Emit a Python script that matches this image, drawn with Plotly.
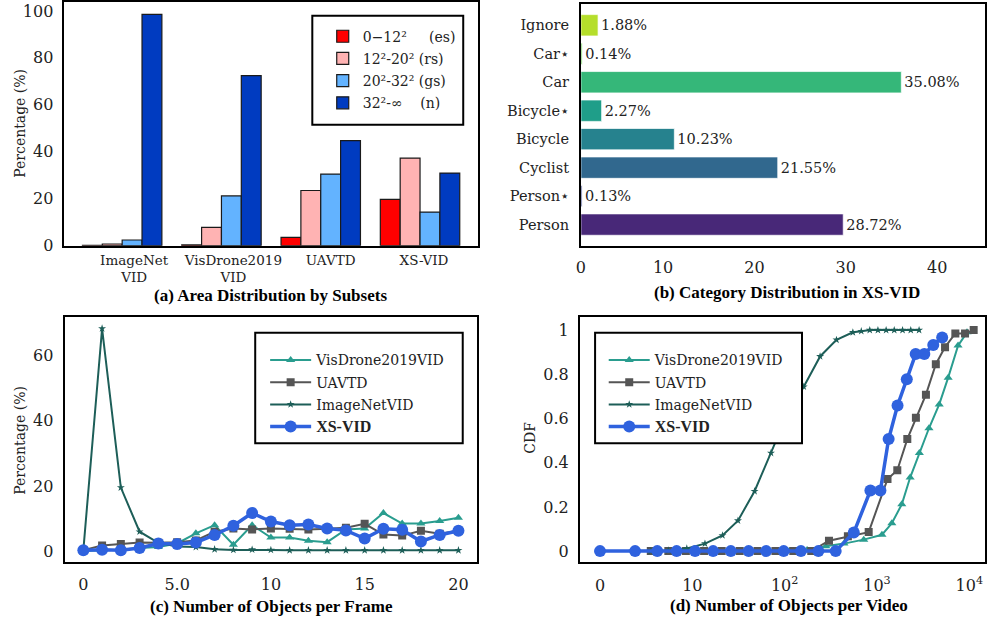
import math
import plotly.graph_objects as go

W, H = 987, 630
FONT = "DejaVu Serif"
BOLD = "Liberation Serif"

# ---------------- data ----------------
# (a) area distribution by subsets (%)
subsets = ["ImageNet<br>VID", "VisDrone2019<br>VID", "UAVTD", "XS-VID"]
area_names = ["0\u221212\u00b2\u00a0\u00a0\u00a0\u00a0\u00a0(es)", "12\u00b2-20\u00b2 (rs)",
              "20\u00b2-32\u00b2 (gs)", "32\u00b2-\u221e\u00a0\u00a0\u00a0\u00a0(n)"]
area_es = [0.1, 0.3, 3.5, 19.7]
area_rs = [0.7, 7.8, 23.5, 37.3]
area_gs = [2.4, 21.2, 30.5, 14.3]
area_n = [98.5, 72.4, 44.7, 30.9]
area_colors = ["#ff0000", "#ffb3b3", "#63b3ff", "#003bc0"]

# (b) category distribution in XS-VID (%)
cat_names = ["Person", "Person\u22c6", "Cyclist", "Bicycle", "Bicycle\u22c6", "Car", "Car\u22c6", "Ignore"]
cat_values = [28.72, 0.13, 21.55, 10.23, 2.27, 35.08, 0.14, 1.88]
cat_colors = ["#482878", "#3e4989", "#31688e", "#26828e", "#1f9e89", "#35b779", "#6ece58", "#b5de2b"]
cat_tick_text = ["0", "10", "20", "30", "40"]

# (c) number of objects per frame (%)
frame_x = list(range(21))
frame_vis = [0.1, 0.3, 0.5, 1.0, 1.3, 2.4, 5.5, 8.0, 2.0, 8.0, 4.2, 4.2, 3.2, 2.8, 6.7, 7.0, 11.7, 8.5, 8.5, 9.3, 10.3]
frame_uav = [0.3, 1.8, 2.2, 2.7, 2.6, 2.8, 3.3, 6.0, 7.0, 6.7, 7.0, 6.9, 6.7, 6.9, 7.2, 8.4, 5.1, 4.8, 6.3, 5.4, 6.3]
frame_img = [0.3, 68.2, 19.5, 6.0, 2.6, 1.5, 1.3, 0.6, 0.4, 0.5, 0.4, 0.3, 0.3, 0.3, 0.3, 0.3, 0.3, 0.3, 0.3, 0.3, 0.3]
frame_xs = [0.3, 0.5, 0.3, 1.0, 2.4, 2.2, 2.7, 5.0, 7.8, 11.7, 9.1, 8.0, 8.2, 7.0, 6.4, 3.9, 6.9, 6.6, 3.0, 5.0, 6.3]

# (d) number of objects per video (CDF)
vid_vis_x = [112, 175, 279, 439, 719, 1132, 1449, 1857, 2286, 2877, 3656, 4721, 5902, 7551, 9441]
vid_vis_y = [0, 0.005, 0.022, 0.034, 0.052, 0.074, 0.126, 0.212, 0.333, 0.444, 0.556, 0.664, 0.785, 0.930, 0.99]
vid_uav_x = [5.5, 7.4, 9.3, 13.4, 20.8, 32.6, 50.8, 79.4, 124, 194, 302, 484, 813, 1300, 1660, 2130,
             2640, 3390, 4340, 5460, 7060, 8990, 11150]
vid_uav_y = [0, 0, 0, 0, 0, 0, 0, 0, 0, 0, 0.047, 0.067, 0.086, 0.326, 0.366, 0.507, 0.604, 0.708,
             0.846, 0.923, 0.985, 0.985, 1.0]
vid_img_x = [3.5, 5.5, 7.4, 9.4, 13.7, 21.2, 31.2, 47.2, 71.1, 107, 161, 242, 364, 548, 676, 835,
             1024, 1256, 1538, 1892, 2322, 2858]
vid_img_y = [0, 0, 0.003, 0.012, 0.034, 0.071, 0.138, 0.271, 0.444, 0.62, 0.744, 0.881, 0.956, 0.99,
             0.995, 1.0, 1.0, 1.0, 1.0, 1.0, 1.0, 1.0]
vid_xs_x = [0, 3.8, 6.2, 8.3, 10.7, 16.8, 26.1, 40.7, 63.1, 97.6, 150, 232, 357, 561, 849, 1089, 1337,
            1670, 2103, 2626, 3256, 4070, 5082]
vid_xs_y = [0] * 13 + [0.084, 0.274, 0.274, 0.507, 0.659, 0.778, 0.892, 0.892, 0.933, 0.967]
vid_ticks = [0, 10, 100, 1000, 10000]
vid_tick_text = ["0", "10", "10<sup>2</sup>", "10<sup>3</sup>", "10<sup>4</sup>"]

series_names = ["VisDrone2019VID", "UAVTD", "ImageNetVID", "XS-VID"]
series_colors = ["#2a9d8f", "#555555", "#1d5e58", "#2f62de"]


def symlog10(v):
    """matplotlib-like symlog (linthresh=10)"""
    return v / 10.0 if v <= 10 else 1.0 + math.log10(v / 10.0)


def px_x(p):
    return p / W


def px_y(p):
    return 1 - p / H


fig = go.Figure()

# ---------------- (a) ----------------
for name, vals, col in zip(area_names, [area_es, area_rs, area_gs, area_n], area_colors):
    fig.add_trace(go.Bar(
        x=list(range(len(subsets))), y=vals, name=name, legendgroup=name,
        marker=dict(color=col, line=dict(color="#1a1a1a", width=1.2)),
        xaxis="x", yaxis="y", legend="legend"))

# ---------------- (b) ----------------
fig.add_trace(go.Bar(
    x=cat_values, y=cat_names, orientation="h", width=0.75,
    marker=dict(color=cat_colors, line=dict(color="rgba(255,255,255,0.7)", width=1)),
    texttemplate="%{x:.2f}%", textposition="outside", cliponaxis=False, constraintext="none",
    textfont=dict(family=FONT, size=14.5, color="#222"),
    showlegend=False, xaxis="x2", yaxis="y2"))

# ---------------- (c) & (d) ----------------
styles = [
    dict(symbol="triangle-up", size=8, lw=2),
    dict(symbol="square", size=8, lw=2),
    dict(symbol="star", size=6, lw=2),
    dict(symbol="circle", size=12, lw=3.5),
]
frame_series = [frame_vis, frame_uav, frame_img, frame_xs]
vid_series = [(vid_vis_x, vid_vis_y), (vid_uav_x, vid_uav_y), (vid_img_x, vid_img_y), (vid_xs_x, vid_xs_y)]
bold_xs = '<span style="font-family:Liberation Serif;font-weight:bold;font-size:16px">XS-VID</span>'

for nm, col, st, ys in zip(series_names, series_colors, styles, frame_series):
    label = bold_xs if nm == "XS-VID" else nm
    fig.add_trace(go.Scatter(
        x=frame_x, y=ys, mode="lines+markers", name=label, legendgroup="c" + nm,
        line=dict(color=col, width=st["lw"]),
        marker=dict(symbol=st["symbol"], size=st["size"], color=col),
        xaxis="x3", yaxis="y3", legend="legend2"))

for nm, col, st, (xs, ys) in zip(series_names, series_colors, styles, vid_series):
    label = bold_xs if nm == "XS-VID" else nm
    fig.add_trace(go.Scatter(
        x=[symlog10(v) for v in xs], y=ys, mode="lines+markers", name=label, legendgroup="d" + nm,
        line=dict(color=col, width=st["lw"]),
        marker=dict(symbol=st["symbol"], size=st["size"], color=col),
        xaxis="x4", yaxis="y4", legend="legend3"))

# ---------------- layout ----------------
axis_common = dict(showline=True, mirror=True, linecolor="black", linewidth=2, showgrid=False,
                   zeroline=False, ticks="", tickfont=dict(family=FONT, size=16, color="#222"))

fig.update_layout(
    width=W, height=H, autosize=False,
    margin=dict(l=0, r=0, t=0, b=0),
    paper_bgcolor="white", plot_bgcolor="white",
    font=dict(family=FONT, color="#222"),
    barmode="group", bargap=0.2, bargroupgap=0,
    xaxis=dict(axis_common, domain=[px_x(59), px_x(476)], anchor="y", range=[-0.59, 3.58],
               tickvals=[0.12, 1.12, 2.1, 3.04], ticktext=subsets,
               tickfont=dict(family=FONT, size=13.5, color="#222"), ticklabelstandoff=1),
    yaxis=dict(axis_common, domain=[px_y(249), px_y(1)], anchor="x", range=[0, 103.8],
               tickvals=[0, 20, 40, 60, 80, 100], ticklabelstandoff=5),
    xaxis2=dict(axis_common, domain=[px_x(580), 1.0], anchor="y2", range=[0, 44.24],
                tickvals=[0, 9, 19, 29, 39], ticktext=cat_tick_text, ticklabelstandoff=6),
    yaxis2=dict(axis_common, domain=[px_y(249), px_y(2.7)], anchor="x2", range=[-0.74, 7.76],
                type="category", tickfont=dict(family=FONT, size=14.5, color="#222"), ticklabelstandoff=7),
    xaxis3=dict(axis_common, domain=[px_x(60), px_x(475)], anchor="y3", range=[-1.0, 20.97],
                tickvals=[0, 5, 10, 15, 20], ticktext=["0", "5.0", "10", "15", "20"], ticklabelstandoff=7),
    yaxis3=dict(axis_common, domain=[px_y(570.7), px_y(321.7)], anchor="x3", range=[-3.2, 71.7],
                tickvals=[0, 20, 40, 60], ticklabelstandoff=6),
    xaxis4=dict(axis_common, domain=[px_x(579), 1.0], anchor="y4", range=[-0.218, 4.17],
                tickvals=[symlog10(v) for v in vid_ticks], ticktext=vid_tick_text, ticklabelstandoff=8),
    yaxis4=dict(axis_common, domain=[px_y(570.7), px_y(321.7)], anchor="x4", range=[-0.048, 1.059],
                tickvals=[0, 0.2, 0.4, 0.6, 0.8, 1.0], ticktext=["0", "0.2", "0.4", "0.6", "0.8", "1"],
                ticklabelstandoff=6),
    legend=dict(x=px_x(320), y=px_y(20), xanchor="left", yanchor="top", bgcolor="rgba(0,0,0,0)",
                borderwidth=0, font=dict(family=FONT, size=14, color="#222"), tracegroupgap=1,
                traceorder="grouped"),
    legend2=dict(x=px_x(262), y=px_y(349.5), xanchor="left", yanchor="top", bgcolor="rgba(0,0,0,0)",
                 borderwidth=0, font=dict(family=FONT, size=14, color="#222"), tracegroupgap=1,
                 itemwidth=41, traceorder="grouped"),
    legend3=dict(x=px_x(603), y=px_y(349.5), xanchor="left", yanchor="top", bgcolor="rgba(0,0,0,0)",
                 borderwidth=0, font=dict(family=FONT, size=14, color="#222"), tracegroupgap=1,
                 itemwidth=41, traceorder="grouped"),
)

# legend frames (white boxes with black border)
for (x0, x1, y0, y1) in [(309.5, 461.5, 15, 126), (252, 461, 337.7, 450), (594.3, 802.7, 337.7, 450)]:
    fig.add_shape(type="rect", xref="paper", yref="paper", x0=px_x(x0), x1=px_x(x1),
                  y0=px_y(y1), y1=px_y(y0), line=dict(color="black", width=2),
                  fillcolor="white", layer="above")

# captions and axis titles
caps = [("(a) Area Distribution by Subsets", 267.5, 300),
        ("(b) Category Distribution in XS-VID", 788, 297),
        ("(c) Number of Objects per Frame", 268.8, 616.5),
        ("(d) Number of Objects per Video", 790, 615)]
for txt, cx, cy in caps:
    fig.add_annotation(text=txt, xref="paper", yref="paper", x=px_x(cx), y=px_y(cy),
                       xanchor="center", yanchor="middle", showarrow=False,
                       font=dict(family=BOLD, size=17, color="black", weight="bold"))

ytitles = [("Percentage (%)", 15, 124), ("Percentage (%)", 15, 446.7), ("CDF", 529.3, 445)]
for txt, cx, cy in ytitles:
    fig.add_annotation(text=txt, xref="paper", yref="paper", x=px_x(cx), y=px_y(cy),
                       xanchor="center", yanchor="middle", showarrow=False, textangle=-90,
                       font=dict(family=FONT, size=14, color="#222"))

fig.write_html("out.html", config={"displayModeBar": False},
               post_script="document.body.style.margin='0px';")
